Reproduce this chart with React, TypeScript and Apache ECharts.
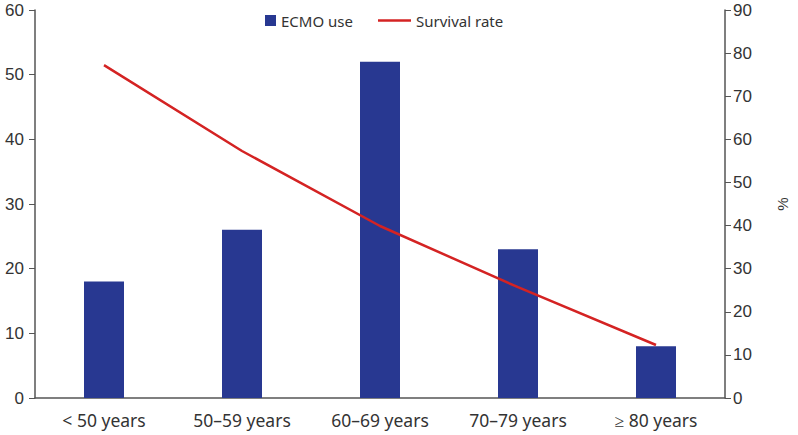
import React, { useEffect, useRef } from "react";
import * as echarts from "echarts";

const categories = ["< 50 years", "50\u201359 years", "60\u201369 years", "70\u201379 years", "\u2265 80 years"];
const ecmoUse = [18, 26, 52, 23, 8];
const survivalRate = [77.2, 57.3, 39.9, 25.7, 12.3];

export default function App() {
  const ref = useRef<HTMLDivElement>(null);
  useEffect(() => {
    const chart = echarts.init(ref.current!, null, { renderer: "svg" });
    const axisColor = "#555";
    const legendText = { fontFamily: "Noto Sans", fontSize: 15, color: "#333" };
    chart.setOption({
      animation: false,
      legend: [
        {
          top: 8,
          left: 260,
          itemWidth: 11,
          itemHeight: 11,
          itemGap: 6,
          textStyle: legendText,
          data: [{ name: "ECMO use", icon: "rect", itemStyle: { color: "#283891" } }],
        },
        {
          top: 8,
          left: 373,
          itemWidth: 33,
          itemHeight: 11,
          textStyle: legendText,
          data: [{ name: "Survival rate", icon: "path://M0,0h33v2.5h-33z", itemStyle: { color: "#d42323" } }],
        },
      ],
      grid: { left: 35, right: 65, top: 10, bottom: 37 },
      xAxis: {
        type: "category",
        data: categories,
        axisLine: { lineStyle: { color: axisColor, width: 1.5 } },
        axisTick: { alignWithLabel: true, length: 7, lineStyle: { color: axisColor } },
        axisLabel: { fontFamily: "Noto Sans", fontSize: 17.5, color: "#333", margin: 13 },
      },
      yAxis: [
        {
          type: "value",
          min: 0,
          max: 60,
          interval: 10,
          splitLine: { show: false },
          axisLine: { show: true, lineStyle: { color: axisColor, width: 1.5 } },
          axisTick: { show: true, length: 6, lineStyle: { color: axisColor } },
          axisLabel: { fontFamily: "Liberation Sans", fontSize: 17, color: "#333", margin: 11 },
        },
        {
          type: "value",
          min: 0,
          max: 90,
          interval: 10,
          position: "right",
          name: "%",
          nameLocation: "middle",
          nameGap: 50,
          nameRotate: 90,
          nameTextStyle: { fontFamily: "Liberation Sans", fontSize: 15, color: "#333" },
          splitLine: { show: false },
          axisLine: { show: true, lineStyle: { color: axisColor, width: 1.5 } },
          axisTick: { show: true, length: 6, lineStyle: { color: axisColor } },
          axisLabel: { fontFamily: "Liberation Sans", fontSize: 17, color: "#333", margin: 8 },
        },
      ],
      series: [
        {
          name: "ECMO use",
          type: "bar",
          data: ecmoUse,
          barWidth: 40,
          itemStyle: { color: "#283891" },
          yAxisIndex: 0,
        },
        {
          name: "Survival rate",
          type: "line",
          data: survivalRate,
          yAxisIndex: 1,
          symbol: "none",
          lineStyle: { color: "#d42323", width: 2.5 },
          itemStyle: { color: "#d42323" },
        },
      ],
    });
    return () => chart.dispose();
  }, []);
  return <div ref={ref} style={{ width: 798, height: 435, position: "absolute", left: 0, top: 0 }} />;
}
